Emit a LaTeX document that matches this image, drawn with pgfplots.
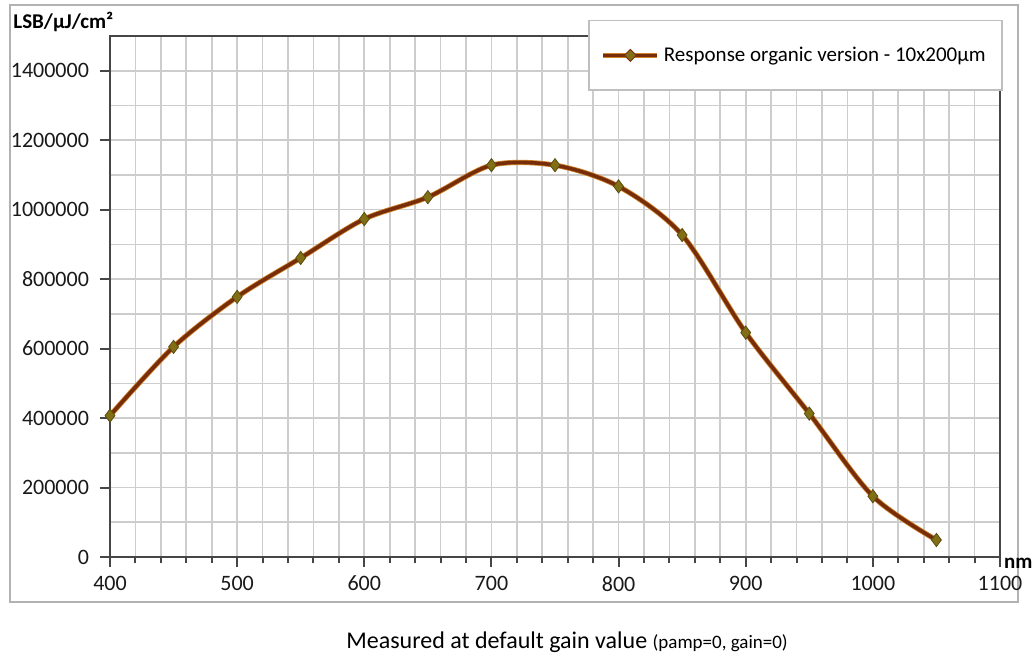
\documentclass[border=0pt]{standalone}
\usepackage{pgfplots}
\pgfplotsset{compat=1.18}
\usepackage{fontspec}
\setmainfont{Carlito}
\definecolor{curve}{RGB}{120,45,10}
\definecolor{halo}{RGB}{205,130,40}
\definecolor{markc}{RGB}{130,110,20}
\definecolor{gridc}{RGB}{205,205,205}
\definecolor{axc}{RGB}{70,70,70}
\begin{document}
\begin{tikzpicture}
\path[use as bounding box] (-55pt,-51pt) rectangle (461.5pt,278.5pt);
\draw[gray!60, line width=1.2pt] (-50pt,-22.5pt) rectangle (454pt,276pt);
\begin{axis}[
  scale only axis, width=445pt, height=260.5pt,
  xmin=400, xmax=1100, ymin=0, ymax=1500000,
  xtick={400,500,...,1100},
  minor x tick num=4,
  ytick={0,200000,...,1400000},
  minor y tick num=1,
  grid=both,
  major grid style={gridc, line width=0.8pt},
  minor grid style={gridc, line width=0.8pt},
  axis line style={axc, line width=1.2pt},
  tick style={axc, line width=1pt},
  major tick length=5pt,
  minor tick length=3pt,
  ytick pos=left, xtick pos=bottom,
  tick align=outside,
  minor y tick style={draw=none},
  scaled y ticks=false,
  /pgf/number format/fixed,
  /pgf/number format/set thousands separator={},
  /pgf/number format/assume math mode=true,
  ticklabel style={font=\fontsize{11}{12}\selectfont, text=black!90},
  y tick label style={xshift=-2pt},
  x tick label style={yshift=-1pt},
  ylabel={\bfseries LSB/µJ/cm²},
  ylabel style={at={(axis description cs:-0.109,1.027)}, rotate=-90, anchor=west, font=\fontsize{10.5}{11}\selectfont, inner sep=0pt},
  xlabel={\bfseries nm},
  xlabel style={at={(axis description cs:1.002,-0.012)}, anchor=west, font=\fontsize{10.5}{11}\selectfont, inner sep=1pt},
  clip=false,
  legend style={at={(axis description cs:0.537,1.031)}, anchor=north west,
    draw=gray!50, line width=0.8pt, fill=white, font=\fontsize{10.5}{12}\selectfont,
    inner xsep=6pt, inner ysep=11pt,
    legend cell align=left},
  legend image code/.code={
    \draw[halo, line width=2.6pt] (0pt,0pt) -- (27pt,0pt);
    \draw[curve, line width=1.8pt] (0pt,0pt) -- (27pt,0pt);
    \fill[markc, draw=curve, line width=0.4pt] (13.5pt,0pt) +(0,3pt) -- +(3pt,0) -- +(0,-3pt) -- +(-3pt,0) -- cycle;
  },
]
\addplot[halo, line width=2.6pt, smooth, tension=0.5, forget plot] coordinates {
(400,407000) (450,605000) (500,749000) (550,861000) (600,973000) (650,1036000)
(700,1128000) (750,1128000) (800,1067000) (850,927000) (900,646000) (950,413000)
(1000,175000) (1050,49000)};
\addplot[curve, line width=1.8pt, smooth, tension=0.5,
  mark=diamond*, mark size=3.3pt, mark options={fill=markc, draw=markc!70!black, line width=0.4pt}] coordinates {
(400,407000) (450,605000) (500,749000) (550,861000) (600,973000) (650,1036000)
(700,1128000) (750,1128000) (800,1067000) (850,927000) (900,646000) (950,413000)
(1000,175000) (1050,49000)};
\addlegendentry{Response organic version - 10x200µm}
\node[anchor=center, font=\fontsize{12}{14}\selectfont] at (axis description cs:0.5135,-0.163)
  {Measured at default gain value {\fontsize{9.5}{11}\selectfont(pamp=0, gain=0)}};
\end{axis}
\end{tikzpicture}
\end{document}
